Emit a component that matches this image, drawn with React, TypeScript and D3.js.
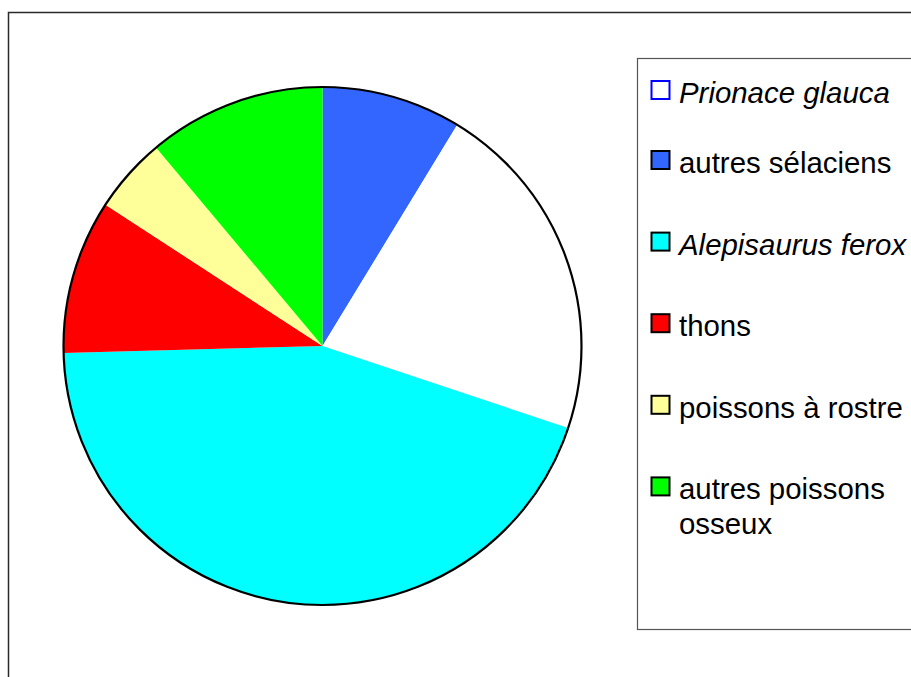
import React from "react";
import * as d3 from "d3";

const categories = [
  "Prionace glauca",
  "autres sélaciens",
  "Alepisaurus ferox",
  "thons",
  "poissons à rostre",
  "autres poissons osseux",
];
const values = [21.4, 8.7, 44.4, 9.6, 4.7, 11.1];
const colors = ["#FFFFFF", "#3366FF", "#00FFFF", "#FF0000", "#FFFF99", "#00FF00"];
const italic = [true, false, true, false, false, false];
// order in which slices are drawn clockwise from 12 o'clock
const pieOrder = [1, 0, 2, 3, 4, 5];

const W = 911;
const H = 677;

export default function App() {
  const cx = 322.5;
  const cy = 346;
  const r = 259;
  const pie = d3
    .pie<number>()
    .sort(null)
    .value((i) => values[i]);
  const arcs = pie(pieOrder);
  const arc = d3.arc<d3.PieArcDatum<number>>().innerRadius(0).outerRadius(r);

  const legendX = 651.5;
  const baselines = categories.map((_, i) => (i === 0 ? 103 : 173 + (i - 1) * 81.6));
  const fontSize = 29.4;

  return (
    <svg
      width={W}
      height={H}
      style={{ position: "absolute", left: 0, top: 0, display: "block", background: "#fff" }}
      fontFamily="'Liberation Sans', Arial, sans-serif"
    >
      <rect x={0} y={0} width={W} height={H} fill="#fff" />
      <rect x={8.5} y={12.5} width={W + 20} height={H + 20} fill="none" stroke="#2a2a2a" strokeWidth={1.5} />
      <g transform={`translate(${cx},${cy})`}>
        {arcs.map((a) => (
          <path key={a.data} d={arc(a) || ""} fill={colors[a.data]} stroke="none" />
        ))}
        <circle r={r} fill="none" stroke="#000" strokeWidth={2.2} />
      </g>
      <rect x={637.5} y={58.5} width={W} height={571} fill="#fff" stroke="#555" strokeWidth={1.2} />
      {categories.map((c, i) => {
        const b = baselines[i];
        const lines = i === 5 ? ["autres poissons", "osseux"] : [c];
        return (
          <g key={c}>
            <rect
              x={legendX}
              y={b - 22}
              width={18}
              height={18}
              fill={colors[i]}
              stroke={i === 0 ? "#0000FF" : "#000"}
              strokeWidth={2}
            />
            <text
              x={679}
              y={b}
              fontSize={fontSize}
              fontStyle={italic[i] ? "italic" : "normal"}
              fill="#000"
            >
              {lines.map((l, j) => (
                <tspan key={j} x={679} dy={j === 0 ? 0 : 35}>
                  {l}
                </tspan>
              ))}
            </text>
          </g>
        );
      })}
    </svg>
  );
}
